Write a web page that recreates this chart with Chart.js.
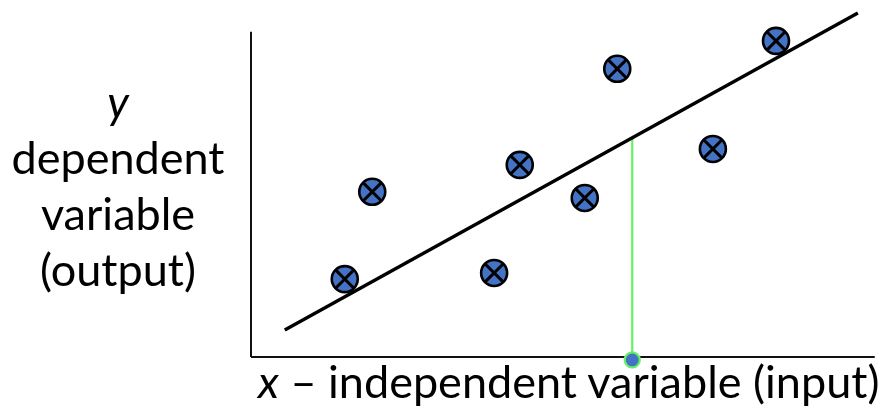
<!DOCTYPE html>
<html>
<head>
<meta charset="utf-8">
<script src="https://cdn.jsdelivr.net/npm/chart.js@4"></script>
<style>
  html, body { margin: 0; padding: 0; background: #fff; }
  #wrap { position: relative; width: 884px; height: 413px; overflow: hidden; }
  canvas { position: absolute; left: 0; top: 0; }
  .lbl { position: absolute; font-family: Lato, "Open Sans", sans-serif; color: #000; white-space: nowrap; }
  #ylab { left: 0; width: 236px; top: 73px; text-align: center; font-size: 45px; line-height: 56px; }
  #xlab { left: 258px; top: 353px; font-size: 45px; line-height: 56px; }
  i { font-style: italic; }
</style>
</head>
<body>
<div id="wrap">
  <canvas id="c" width="884" height="413"></canvas>
  <div class="lbl" id="ylab"><i>y</i><br>dependent<br>variable<br>(output)</div>
  <div class="lbl" id="xlab"><i>x</i> – independent variable (input)</div>
</div>
<script>
// Observations (arbitrary units)
const pointX = [1.50, 1.94, 3.89, 4.30, 5.34, 5.86, 7.39, 8.40];
const pointY = [2.40, 5.09, 2.59, 5.92, 4.90, 8.88, 6.41, 9.74];
// Fitted regression line endpoints
const fitX = [0.54, 9.71];
const fitY = [0.83, 10.60];
// Selected input and its projection onto the line
const selX = [6.10, 6.10];
const selY = [-0.09, 6.75];
const dotX = [6.10];
const dotY = [-0.09];
// Axis lines
const yAxisX = [0, 0];
const yAxisY = [0, 10.02];
const xAxisX = [0, 9.98];
const xAxisY = [0, 0];

const zip = (xs, ys) => xs.map((x, i) => ({ x: x, y: ys[i] }));
const blue = '#4472C4';
const green = '#66EE66';

new Chart(document.getElementById('c'), {
  type: 'scatter',
  data: {
    datasets: [
      { data: zip(pointX, pointY), pointStyle: 'crossRot', pointRadius: 13, borderColor: '#000', borderWidth: 3, backgroundColor: 'rgba(0,0,0,0)', order: 0, clip: false },
      { data: zip(pointX, pointY), pointStyle: 'circle', pointRadius: 13, borderColor: '#000', borderWidth: 2.6, backgroundColor: blue, order: 1, clip: false },
      { data: zip(dotX, dotY), pointStyle: 'circle', pointRadius: 7.5, borderColor: green, borderWidth: 2.2, backgroundColor: blue, order: 2, clip: false },
      { data: zip(fitX, fitY), showLine: true, borderColor: '#000', borderWidth: 3.4, pointRadius: 0, order: 3, clip: false },
      { data: zip(selX, selY), showLine: true, borderColor: green, borderWidth: 2.2, pointRadius: 0, order: 4, clip: false },
      { data: zip(yAxisX, yAxisY), showLine: true, borderColor: '#111', borderWidth: 2, pointRadius: 0, order: 5, clip: false },
      { data: zip(xAxisX, xAxisY), showLine: true, borderColor: '#111', borderWidth: 2, pointRadius: 0, order: 5, clip: false }
    ]
  },
  options: {
    responsive: false,
    animation: false,
    events: [],
    devicePixelRatio: 1,
    layout: { autoPadding: false, padding: { left: 251, right: 8, top: 0, bottom: 56 } },
    plugins: { legend: { display: false }, tooltip: { enabled: false }, title: { display: false } },
    scales: {
      x: { type: 'linear', min: 0, max: 10, display: false },
      y: { type: 'linear', min: 0, max: 11, display: false }
    }
  }
});
</script>
</body>
</html>
